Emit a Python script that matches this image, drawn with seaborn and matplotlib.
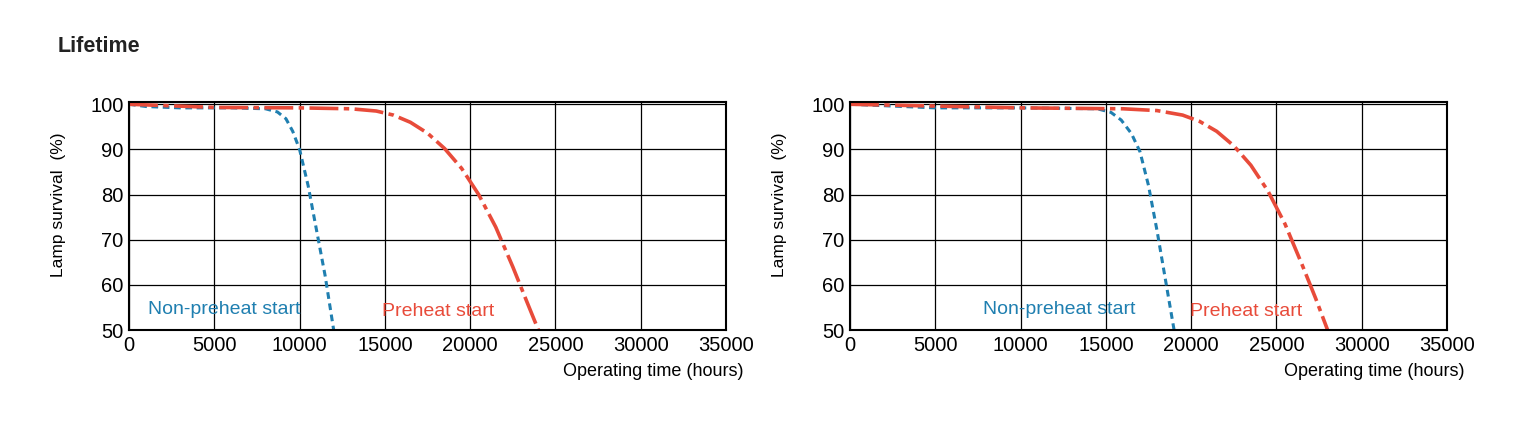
import matplotlib
matplotlib.use("Agg")
import matplotlib.pyplot as plt
import seaborn as sns
import pandas as pd

sns.set_theme(style="white")
plt.rcParams['font.family'] = ['Liberation Sans', 'DejaVu Sans']

l_blue_x = [0, 1000, 3000, 6000, 8000, 8700, 9200, 9600, 10000, 10500, 11000, 11500, 12000]
l_blue_y = [100, 99.5, 99.2, 99.2, 99, 98.3, 96.8, 94, 90, 82, 72, 62, 50]
l_red_x = [0, 5000, 10000, 13000, 14500, 15500, 16500, 17500, 18500, 19500, 20500, 21500, 22500, 23300, 24000]
l_red_y = [100, 99.3, 99.2, 99.0, 98.5, 97.6, 96.0, 93.6, 90.2, 85.8, 80.0, 72.8, 64.0, 56.5, 50]
r_blue_x = [0, 5000, 10000, 14500, 15300, 15900, 16500, 17000, 17500, 18000, 18500, 19000]
r_blue_y = [100, 99.2, 99.2, 99, 98.2, 96.5, 93.5, 89.5, 82, 72, 61, 50]
r_red_x = [0, 10000, 16000, 18000, 19500, 20500, 21500, 22500, 23500, 24500, 25500, 26500, 27300, 28000]
r_red_y = [100, 99.2, 99, 98.6, 97.6, 96.2, 94.0, 90.8, 86.5, 80.8, 73.5, 64.5, 57.0, 50]

x_ticks = [0, 5000, 10000, 15000, 20000, 25000, 30000, 35000]
y_ticks = [50, 60, 70, 80, 90, 100]
BLUE = "#1f7fb0"
RED = "#e84b3a"

fig = plt.figure(figsize=(15.21, 4.24), dpi=100)
fig.text(58/1521, 1-46/424, "Lifetime", fontsize=15.5, fontweight="bold", va="center", color="#222222")

panels = [
    (129, l_blue_x, l_blue_y, l_red_x, l_red_y, (1100, 54.6), (14830, 54.0)),
    (850, r_blue_x, r_blue_y, r_red_x, r_red_y, (7800, 54.6), (19960, 54.0)),
]
for left, bx, by, rx, ry, bl, rl in panels:
    ax = fig.add_axes([left/1521, 1-330/424, 597/1521, 228/424])
    sns.lineplot(x=bx, y=by, ax=ax, color=BLUE, lw=2.2, linestyle=(0, (2.2, 1.5)), sort=False)
    sns.lineplot(x=rx, y=ry, ax=ax, color=RED, lw=2.6, linestyle=(0, (8, 1.5, 1.5, 1.5)), sort=False)
    ax.set_xlim(0, 35000)
    ax.set_ylim(50, 100.5)
    ax.set_xticks(x_ticks)
    ax.set_yticks(y_ticks)
    ax.set_xticklabels([str(v) for v in x_ticks], fontsize=14.5)
    ax.set_yticklabels([str(v) for v in y_ticks], fontsize=14.5)
    ax.grid(True, color="black", lw=0.9)
    for s in ax.spines.values():
        s.set_color("black"); s.set_linewidth(1.5)
    ax.tick_params(length=0, pad=4, colors="black")
    ax.set_ylabel("Lamp survival  (%)", fontsize=12.5, color="black")
    ax.yaxis.set_label_coords(-0.105, 0.55)
    ax.text(1.03, -0.18, "Operating time (hours)", transform=ax.transAxes, ha="right",
            va="center", fontsize=13, color="black")
    ax.text(bl[0], bl[1], "Non-preheat start", color=BLUE, fontsize=14, va="center")
    ax.text(rl[0], rl[1], "Preheat start", color=RED, fontsize=14, va="center")

fig.savefig("out.png", dpi=100)
